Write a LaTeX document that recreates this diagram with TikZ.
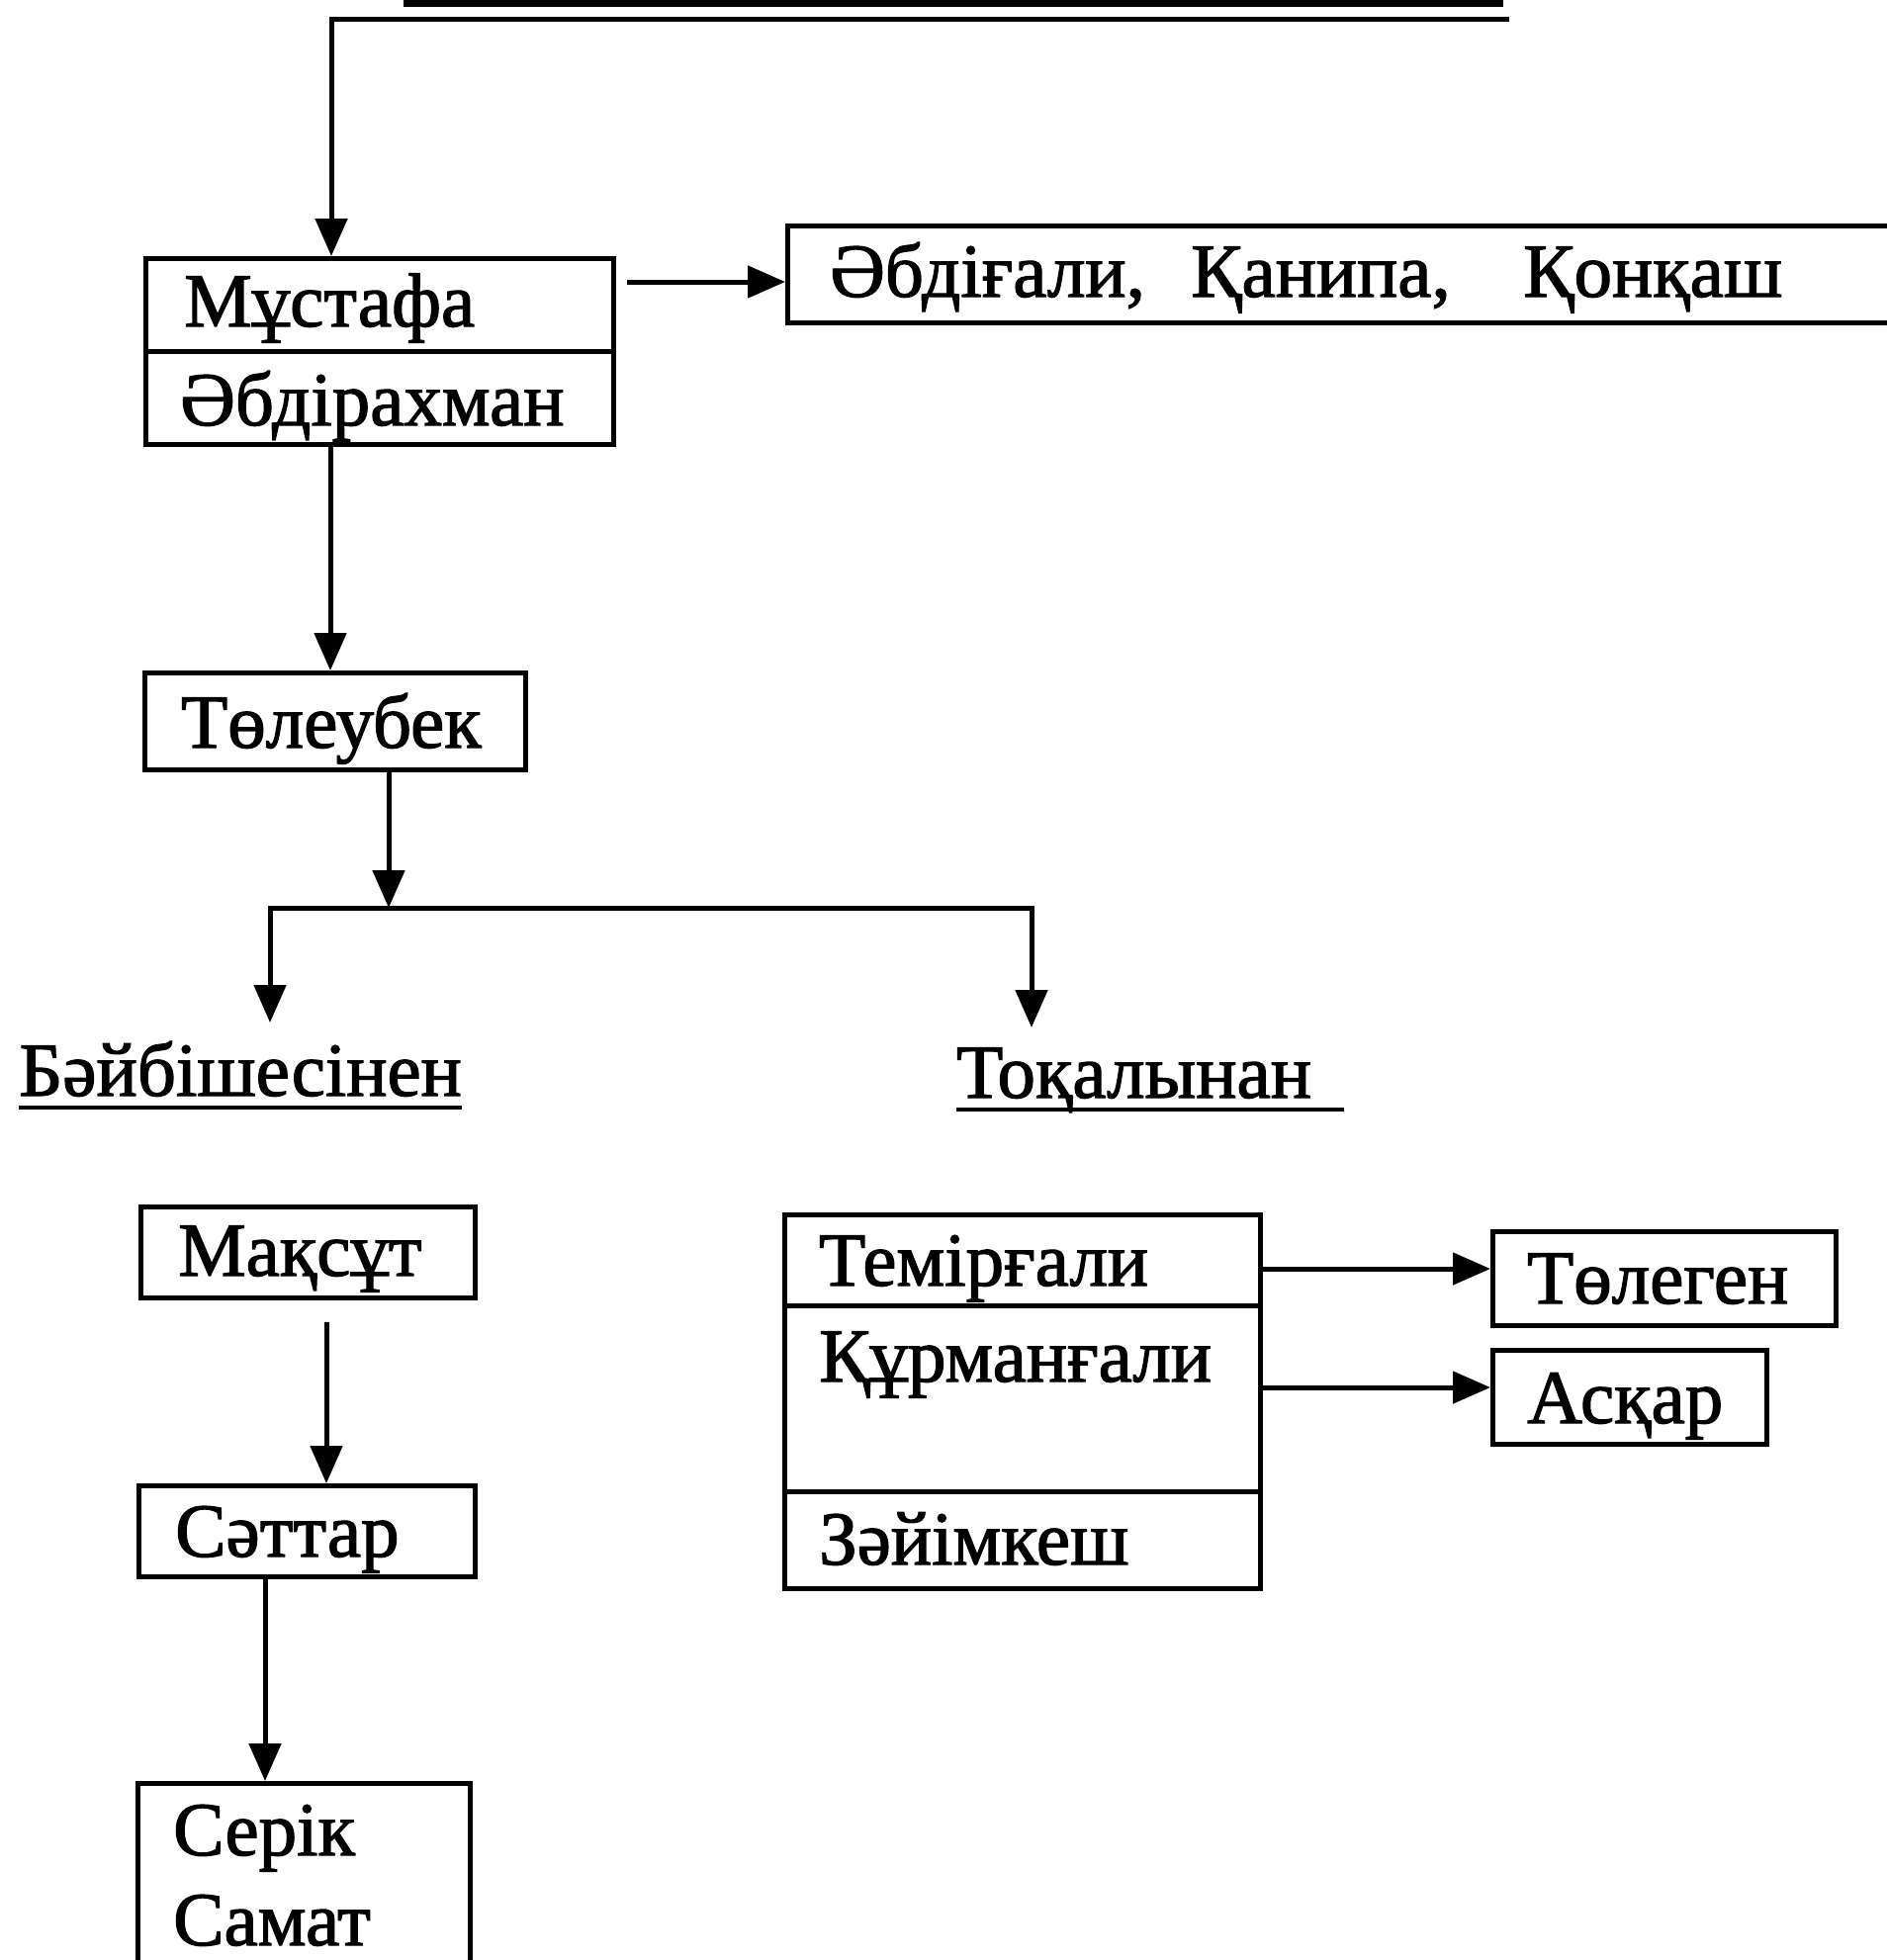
\documentclass[tikz,border=0pt]{standalone}
\usepackage{fontspec}
\setmainfont{Liberation Serif}[FakeBold=1.6]
\usetikzlibrary{arrows.meta}
\begin{document}
\begin{tikzpicture}[x=1pt,y=-1pt,
  box/.style={draw, line width=5pt, inner sep=0pt, anchor=north west},
  lbl/.style={anchor=base west, inner sep=0pt, font=\fontsize{77}{90}\selectfont},
  arr/.style={line width=5pt, -{Triangle[length=38pt,width=32pt]}},
  ln/.style={line width=5pt},
  uline/.style={line width=4pt}
]
\useasboundingbox (0,0) rectangle (1908,1982);

% top (cut-off) lines
\draw[line width=7pt] (408,3) -- (1520,3);
\coordinate (tr) at (1526,19);
\coordinate (tl) at (335,19);

% Mustafa / Abdirakhman
\node[box, minimum width=473pt, minimum height=188pt] (M) at (145,259) {};
\draw[ln] (M.west |- 0,355) -- (M.east |- 0,355);
\node[lbl] (t1) at (186,330) {Мұстафа};
\node[lbl] (t2) at (182,430) {Әбдірахман};
\draw[arr] (tr) -- (tl) -- (tl |- M.north);

% right box
\node[box, minimum width=1200pt, minimum height=98pt] (R) at (794,226) {};
\node[lbl] (r1) at (839,300) {Әбдіғали,};
\node[lbl] (r2) at (1204,300) {Қанипа,};
\node[lbl] (r3) at (1540,300) {Қонқаш};
\draw[arr, shorten <=11pt] (M.east |- 0,285) -- (R.west |- 0,285);

% Toleubek
\node[box, minimum width=385pt, minimum height=98pt] (T) at (144,678) {};
\node[lbl] (tt) at (183,756) {Төлеубек};
\draw[arr] (M.south -| 334,0) -- (T.north -| 334,0);

% branching
\coordinate (J) at (393,918);
\coordinate (JL) at (273,918);
\coordinate (JR) at (1043,918);
\draw[arr] (T.south -| J) -- (J);
\draw[ln] (JL) -- (JR);
\coordinate (bl) at (273,1034);
\coordinate (br) at (1043,1039);
\draw[arr] ([yshift=2.5pt]JL) -- (bl);
\draw[arr] ([yshift=2.5pt]JR) -- (br);

\node[lbl] (b1) at (19,1108) {Бәйбішесінен};
\draw[uline] ([yshift=-12pt]b1.base west) -- ([yshift=-12pt]b1.base east);
\node[lbl] (b2) at (967,1110) {Тоқалынан};
\draw[uline] ([yshift=-12pt]b2.base west) -- ([yshift=-12pt]b2.base west -| 1359,0);

% left column
\node[box, minimum width=338pt, minimum height=92pt] (Q) at (140,1218) {};
\node[lbl] (q) at (180,1290) {Мақсұт};
\node[box, minimum width=340pt, minimum height=92pt] (S) at (138,1500) {};
\node[lbl] (s) at (177,1574) {Сәттар};
\node[box, minimum width=336pt, minimum height=300pt] (C) at (137,1801) {};
\node[lbl] (c1) at (175,1876) {Серік};
\node[lbl] (c2) at (175,1967) {Самат};
\draw[arr, shorten <=22pt] (Q.south -| 330,0) -- (S.north -| 330,0);
\draw[arr] (S.south -| 268,0) -- (C.north -| 268,0);

% right column
\node[box, minimum width=481pt, minimum height=378pt] (G) at (791,1226) {};
\draw[ln] (G.west |- 0,1320) -- (G.east |- 0,1320);
\draw[ln] (G.west |- 0,1508) -- (G.east |- 0,1508);
\node[lbl] (g1) at (828,1300) {Темірғали};
\node[lbl] (g2) at (828,1397) {Құрманғали};
\node[lbl] (g3) at (828,1582) {Зәйімкеш};

\node[box, minimum width=347pt, minimum height=95pt] (P) at (1507,1243) {};
\node[lbl] (p) at (1544,1318) {Төлеген};
\node[box, minimum width=277pt, minimum height=95pt] (A) at (1507,1363) {};
\node[lbl] (a) at (1544,1439) {Асқар};
\draw[arr] (G.east |- 0,1283) -- (P.west |- 0,1283);
\draw[arr] (G.east |- 0,1403) -- (A.west |- 0,1403);
\end{tikzpicture}
\end{document}
